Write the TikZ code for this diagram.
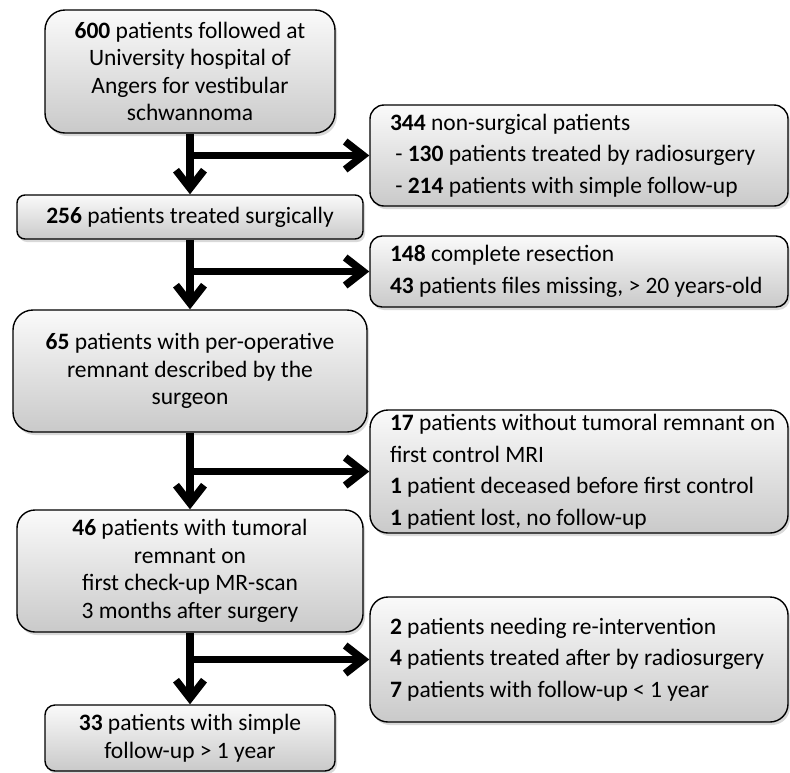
\documentclass[tikz,border=0pt]{standalone}
\usepackage{fontspec}
\setmainfont{Carlito}
\usetikzlibrary{arrows.meta,shadows}
\begin{document}
\begin{tikzpicture}[x=1pt,y=-1pt,
  box/.style={draw=black, line width=1.4pt, rounded corners=#1,
    top color=gray!4, bottom color=gray!42,
    drop shadow={shadow xshift=2pt,shadow yshift=-3pt,opacity=0.3},
    inner sep=0pt, align=center, font=\fontsize{23.5}{27.5}\selectfont},
  lbox/.style={box=#1, align=flush left, text width=378pt, inner xsep=20pt,
    font=\fontsize{23.5}{31.5}\selectfont},
  arr/.style={line width=7.5pt, -{Straight Barb[length=18pt,width=28pt]}}]
\useasboundingbox (0,0) rectangle (790,772);

\node[box=20pt, minimum width=290pt, minimum height=123pt] (b1) at (190,71.5)
  {\textbf{600} patients followed at\\University hospital of\\Angers for vestibular\\schwannoma};
\node[box=8pt, minimum width=346pt, minimum height=44pt] (b2) at (190,217)
  {\textbf{256} patients treated surgically};
\node[lbox=14pt, minimum height=101pt] (b3) at (579,155.5)
  {\mbox{\textbf{344} non-surgical patients}\\
   \mbox{\ - \textbf{130} patients treated by radiosurgery}\\
   \mbox{\ - \textbf{214} patients with simple follow-up}};
\node[lbox=12pt, minimum height=71pt] (b4) at (579,271.5)
  {\mbox{\textbf{148} complete resection}\\
   \mbox{\textbf{43} patients files missing, > 20 years-old}};
\node[box=20pt, minimum width=354pt, minimum height=122pt] (b5) at (190,371)
  {\textbf{65} patients with per-operative\\remnant described by the\\surgeon};
\node[lbox=18pt, minimum height=123pt] (b6) at (579,471.5)
  {\mbox{\textbf{17} patients without tumoral remnant on}\\
   \mbox{first control MRI}\\
   \mbox{\textbf{1} patient deceased before first control}\\
   \mbox{\textbf{1} patient lost, no follow-up}};
\node[box=18pt, minimum width=346pt, minimum height=122pt] (b7) at (190,571)
  {\textbf{46} patients with tumoral\\remnant on\\first check-up MR-scan\\3 months after surgery};
\node[lbox=18pt, minimum height=125pt] (b8) at (579,659.5)
  {\mbox{\textbf{2} patients needing re-intervention}\\
   \mbox{\textbf{4} patients treated after by radiosurgery}\\
   \mbox{\textbf{7} patients with follow-up < 1 year}};
\node[box=10pt, minimum width=290pt, minimum height=66pt] (b9) at (190,738)
  {\textbf{33} patients with simple\\follow-up > 1 year};

\draw[arr] (b1.south) -- (b2.north);
\draw[arr] (b1.south |- b3.west) -- (b3.west);
\draw[arr] (b2.south) -- (b5.north);
\draw[arr] (b2.south |- b4.west) -- (b4.west);
\draw[arr] (b5.south) -- (b7.north);
\draw[arr] (b5.south |- b6.west) -- (b6.west);
\draw[arr] (b7.south) -- (b9.north);
\draw[arr] (b7.south |- b8.west) -- (b8.west);
\end{tikzpicture}
\end{document}
